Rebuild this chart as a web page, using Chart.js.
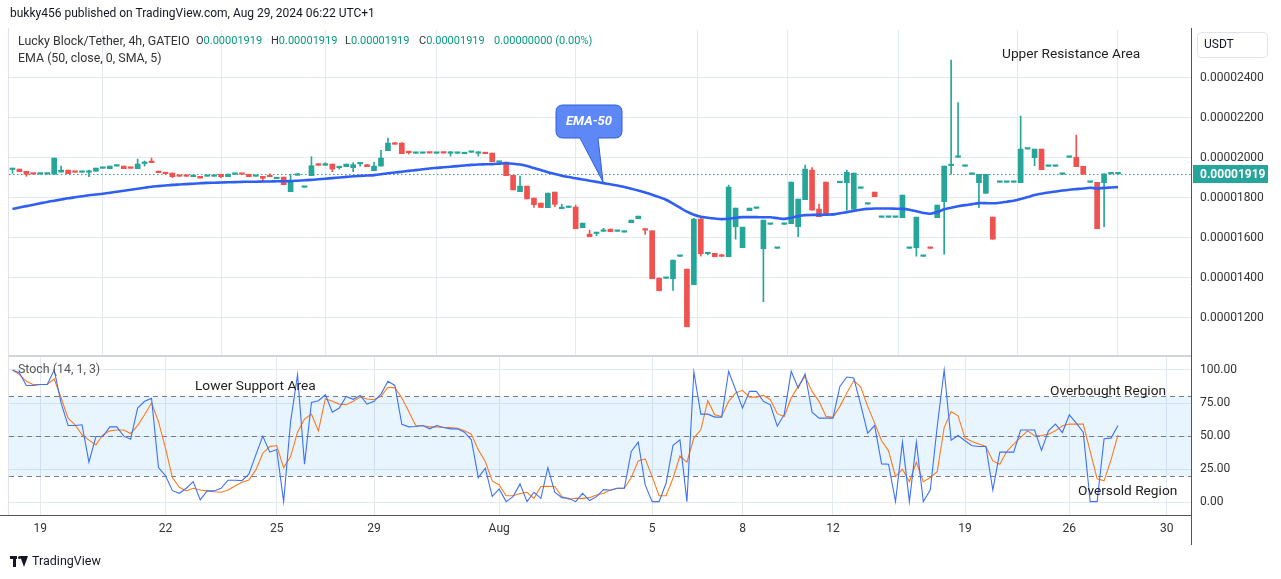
<!DOCTYPE html>
<html><head><meta charset="utf-8">
<script src="https://cdn.jsdelivr.net/npm/chart.js@4.4.1/dist/chart.umd.min.js"></script>
<style>
html,body{margin:0;padding:0;background:#fff;width:1281px;height:579px;overflow:hidden;font-family:Roboto,'Liberation Sans',sans-serif;color:#131722;}
canvas{position:absolute;left:0;top:0;}
.t{position:absolute;white-space:nowrap;font-size:12px;line-height:14px;}
.s{font-size:11px;}
.v{color:#089981;}
.ann{position:absolute;white-space:nowrap;font-size:13.7px;color:#222;}
</style></head>
<body>
<canvas id="main" width="1281" height="579" style="width:1281px;height:579px"></canvas>
<canvas id="stoch" width="1281" height="579" style="width:1281px;height:579px"></canvas>
<div class="t" style="left:10px;top:6px;">bukky456 published on TradingView.com, Aug 29, 2024 06:22 UTC+1</div>
<div class="t" style="left:18px;top:34px;color:#333;font-size:12.4px;">Lucky Block/Tether, 4h, GATEIO</div>
<div class="t s" style="left:196px;top:34px;color:#333;">O<span class="v">0.00001919</span></div>
<div class="t s" style="left:271px;top:34px;color:#333;">H<span class="v">0.00001919</span></div>
<div class="t s" style="left:345px;top:34px;color:#333;">L<span class="v">0.00001919</span></div>
<div class="t s" style="left:419px;top:34px;color:#333;">C<span class="v">0.00001919</span></div>
<div class="t s" style="left:494px;top:34px;"><span class="v">0.00000000 (0.00%)</span></div>
<div class="t" style="left:18px;top:51px;color:#333;font-size:12.4px;">EMA (50, close, 0, SMA, 5)</div>
<div class="t" style="left:18px;top:362px;color:#555;font-size:12.4px;">Stoch (14, 1, 3)</div>
<div class="ann" style="left:1002px;top:45px;">Upper Resistance Area</div>
<div class="ann" style="left:195px;top:377px;">Lower Support Area</div>
<div class="ann" style="left:1050px;top:382px;">Overbought Region</div>
<div class="ann" style="left:1078px;top:482px;">Oversold Region</div>
<div style="position:absolute;left:10px;top:556px;width:18px;height:11px;">
  <div style="position:absolute;left:0;top:0;width:7px;height:3px;background:#131722"></div>
  <div style="position:absolute;left:3px;top:0;width:3px;height:11px;background:#131722"></div>
  <div style="position:absolute;left:8px;top:0;width:3px;height:3px;border-radius:50%;background:#131722"></div>
  <div style="position:absolute;left:10px;top:0;width:0;height:0;border-left:4px solid transparent;border-right:4px solid transparent;border-top:11px solid #131722"></div>
</div>
<div class="t" style="left:32px;top:554px;font-size:12.5px;">TradingView</div>
<script>
// ---- data (prices in units of 1e-8 USDT), one entry per 4h candle ----
const OPEN  = [1941,1943,1932,1919,1918,1918,1917,1928,1938,1928, 1927,1927,1932,1947,1945,1958,1958,1948,1945,1971,
               1983,1933,1927,1923,1908,1908,1905,1907,1907,1907, 1917,1905,1917,1918,1917,1907,1907,1906,1895,1903,
               1830,1912,1852,1910,1970,1962,1968,1950,1955,1950, 1969,1965,1935,1958,2035,2068,2073,2026,2022,2022,
               2024,2022,2024,2022,2022,2020,2027,2022,2027,2023, 1977,1978,1912,1830,1858,1798,1773,1750,1828,1745,
               1751,1753,1650,1618,1621,1632,1643,1632,1628,1675, 1695,1639,1635,1398,1397,1395,1507,1443,1365,1693,
               1520,1522,1508,1505,1655,1550,1735,1747,1545,1667, 1547,1667,1670,1655,1790,1938,1743,1878,1712,1875,
               1875,1742,1847,1768,1828,1702,1702,1702,1700,1547, 1550,1507,1548,1700,1780,1960,2002,1957,1917,1875,
               1822,1703,1877,1877,1877,1875,2043,2000,2043,1957, 1957,1917,2002,2002,1957,1877,1877,1875,1919,1919];
const HIGH  = [1942,1943,1932,1919,1919,1922,1998,1958,1938,1928, 1928,1938,1948,1948,1958,1959,1958,1948,1993,1983,
               1998,1933,1927,1923,1908,1908,1913,1907,1908,1908, 1917,1918,1918,1918,1917,1908,1907,1920,1896,1903,
               1915,1920,1853,2005,1970,1975,1968,1951,1968,1975, 1975,1965,1977,2037,2098,2075,2075,2026,2023,2023,
               2024,2023,2024,2030,2023,2021,2028,2030,2027,2023, 1983,1978,1912,1908,1858,1798,1773,1823,1828,1767,
               1758,1763,1673,1638,1622,1647,1643,1633,1633,1688, 1708,1645,1635,1398,1398,1488,1508,1443,1697,1697,
               1521,1522,1518,1863,1748,1653,1748,1748,1688,1668, 1548,1668,1878,1793,1963,1950,1768,1878,1713,1876,
               1938,1923,1848,1769,1828,1703,1703,1703,1813,1548, 1703,1508,1548,1763,1958,2488,2275,1958,1918,1917,
               1917,1703,1878,1878,1878,2208,2044,2043,2043,1958, 1958,1918,2003,2113,1957,1878,1877,1919,1919,1919];
const LOW   = [1922,1930,1907,1918,1918,1918,1917,1928,1920,1927, 1927,1905,1932,1947,1945,1958,1945,1947,1945,1958,
               1975,1925,1920,1900,1907,1907,1905,1898,1907,1907, 1900,1905,1917,1917,1905,1907,1885,1905,1895,1865,
               1830,1912,1852,1910,1962,1962,1930,1943,1955,1930, 1958,1955,1935,1958,2035,2067,2020,2018,2022,2022,
               2023,2022,2023,2008,2022,2020,2027,2008,2020,1980, 1977,1910,1839,1830,1794,1751,1751,1750,1755,1745,
               1751,1645,1650,1605,1610,1632,1630,1632,1628,1675, 1695,1617,1395,1335,1397,1337,1507,1155,1365,1508,
               1515,1505,1507,1505,1593,1550,1735,1747,1280,1667, 1547,1667,1670,1605,1790,1738,1705,1712,1712,1875,
               1738,1742,1847,1768,1805,1702,1702,1702,1700,1547, 1508,1507,1547,1700,1517,1918,2002,1957,1917,1750,
               1822,1593,1877,1877,1877,1875,2043,1960,1940,1957, 1957,1917,2002,1955,1917,1877,1645,1655,1919,1919];
const CLOSE = [1942,1930,1917,1918,1919,1919,1998,1938,1920,1927, 1928,1928,1948,1948,1958,1959,1945,1947,1968,1972,
               1975,1925,1920,1905,1907,1907,1913,1898,1908,1908, 1905,1918,1918,1917,1905,1908,1897,1905,1896,1865,
               1885,1920,1853,1960,1962,1970,1943,1951,1968,1965, 1970,1955,1958,1998,2073,2067,2020,2025,2023,2023,
               2023,2023,2023,2023,2023,2021,2028,2023,2020,1980, 1983,1910,1839,1858,1794,1765,1751,1823,1767,1753,
               1752,1645,1673,1605,1622,1633,1630,1633,1629,1688, 1708,1638,1395,1335,1398,1488,1508,1155,1693,1520,
               1521,1505,1507,1853,1748,1653,1748,1748,1688,1668, 1548,1668,1878,1793,1943,1738,1705,1712,1713,1876,
               1927,1923,1848,1769,1805,1703,1703,1703,1813,1548, 1703,1508,1547,1763,1958,1961,2003,1958,1918,1917,
               1917,1593,1878,1878,1878,2043,2044,2043,1940,1958, 1958,1918,2003,1955,1917,1878,1645,1919,1919,1919];
const EMA50 = [1744,1751,1758,1765,1772,1779,1785,1791,1797,1802, 1807,1812,1816,1820,1825,1830,1835,1840,1845,1850,
               1855,1858,1861,1864,1866,1868,1870,1872,1874,1875, 1876,1877,1878,1879,1880,1880,1881,1881,1882,1882,
               1883,1885,1887,1889,1892,1895,1898,1901,1904,1907, 1909,1911,1913,1917,1922,1926,1930,1934,1938,1942,
               1946,1949,1952,1955,1958,1961,1964,1966,1967,1968, 1970,1972,1970,1966,1958,1948,1938,1927,1918,1910,
               1903,1897,1891,1885,1879,1873,1867,1861,1853,1845, 1836,1826,1815,1803,1790,1770,1750,1730,1715,1705,
               1700,1696,1693,1695,1700,1703,1703,1703,1702,1702, 1698,1694,1700,1708,1713,1714,1714,1715,1717,1722,
               1728,1734,1740,1744,1746,1746,1746,1745,1744,1740, 1732,1724,1720,1728,1742,1750,1757,1763,1768,1773,
               1773,1772,1775,1780,1785,1793,1803,1813,1820,1826, 1831,1836,1840,1843,1846,1850,1846,1849,1851,1853];
const STOCH_K = [100,97.7,88.3,88.3,89,89,100,75,58,58, 58.6,30.3,49.7,49.7,57,57,50,47.7,71.2,76.3,
                 78.5,26.2,20.2,8.8,6.8,10.6,15.6,1.8,8.6,8.6, 10.6,16.7,16.7,16.4,21.2,35.8,50,37.9,39.9,0.5,
                 61,96.5,28.8,75.5,76.8,81.3,68,71.2,80,77.8, 80.8,74.2,76.3,81.8,91.4,88.3,59,57,57.3,58,
                 55.5,58,56.5,55.5,55.5,53,47.2,18.7,25.8,4.5, 10.1,0.5,4.3,13.9,0.5,7.6,3,26.2,7.6,3.5,
                 3,0.5,6.8,1.3,4.3,9.6,9.1,10.6,10.6,38.4, 45.5,13.1,0.5,0.5,14.4,43,47.2,0.5,98.5,66.6,
                 66.6,64.4,64.4,99,85.1,71.2,83.8,83.8,76.3,73.7, 57.5,66.4,99,86.4,97,68.1,63.6,63.6,63.6,87.6,
                 94.7,93.9,73.7,52.2,58,29,28.8,0.5,45.5,0.5, 45.5,0.5,9.3,57.3,100,46.9,50.5,46.5,42.7,42.2,
                 42.2,9.3,37.9,37.9,37.9,54.6,54.6,54.6,39.2,54, 59.1,52.7,66.1,59.8,53,0.5,0.5,48,48.5,58];
const STOCH_D = [100,96.5,91.4,88.9,89,89,93.2,78.8,63.6,58.6, 51,47,43.4,51,54,54.6,54.6,52,58,66.1,
                 75,61,40.9,18.7,11.4,8.6,10.6,9.3,8.6,8, 7.6,9.3,12.3,15.1,16.9,24.5,37.1,42.1,42.9,26.2,
                 34.5,53,62.9,66.6,54,78.3,76.3,74.2,73.7,76.3, 79.5,78,77.5,80,86.9,86.5,78.8,68.6,57.8,57.8,
                 57,57,56.5,56.5,56,54,51.5,39.6,30.8,16.1, 13.1,5,5,6.6,7.6,3,11.9,12.1,11.9,4.3,
                 2.3,3,3,3.5,5.5,6.8,9.3,10.6,10.6,18.7, 31.3,32.8,19.4,5,5,18.2,35,30.3,48.5,54.8,
                 76.8,66.1,64.9,76.3,82.6,84.6,79.5,79.5,80.8,77.5, 67,64.9,78.8,87.6,95.2,83.8,76.3,64.9,64.2,72.5,
                 82.6,92,87.1,72.5,59.8,46.5,38.9,19.4,25,15.6, 30.3,15.6,18.7,23.2,56.5,68.6,65.4,48.5,46,44,
                 42.2,31.3,28.8,38.4,44,49,54,50.3,50.5,51.5, 54,57.8,59.1,59.1,59.1,38.4,17.7,16.2,32,51];
const DATE_IDX    = [4, 22, 38, 52, 70, 92, 105, 118, 137, 152, 166];
const DATE_LABELS = ['19','22','25','29','Aug','5','8','12','19','26','30'];
const PRICE_TICKS = [1200,1400,1600,1800,2000,2200,2400];
const STOCH_TICKS = [0,25,50,75,100];
const STOCH_LEVELS = [80,50,20];
const LAST_PRICE = 1919;

// ---- layout constants ----
const LEFT = 9, RIGHT = 1191, W = 1281, H = 579;
const MAIN_TOP = 30, MAIN_BOT = 355, ST_TOP = 357, ST_BOT = 515;
const XMIN = -0.5, XMAX = 169.5;
const UP = '#26a69a', DOWN = '#ef5350', GRID = '#e3e9f1', TXT = '#333';
const FONT = "Roboto, 'Liberation Sans', sans-serif";

const colors = OPEN.map((o,i) => CLOSE[i] >= o ? UP : DOWN);
const idx = OPEN.map((_,i) => i);
const fmt8 = v => (v*1e-8).toFixed(8);

const xScale = (showLabels) => ({
  type:'linear', min:XMIN, max:XMAX, offset:false,
  afterBuildTicks: s => { s.ticks = DATE_IDX.map(v => ({value:v})); },
  ticks:{ display:showLabels, autoSkip:false, maxRotation:0, padding:7, color:TXT,
          font:{family:FONT, size:12},
          callback: (v) => { const k = DATE_IDX.indexOf(v); return k >= 0 ? DATE_LABELS[k] : ''; } },
  grid:{ color:GRID, drawTicks:false, lineWidth:1 },
  border:{ display:false },
  afterFit: s => { s.height = showLabels ? 30 : 0; }
});

const mainDecor = {
  id:'mainDecor',
  beforeDatasetsDraw(chart){
    const c = chart.ctx, y = chart.scales.y.getPixelForValue(LAST_PRICE);
    c.save();
    c.strokeStyle = '#26a69a'; c.lineWidth = 1; c.setLineDash([1.5,2.5]);
    c.beginPath(); c.moveTo(LEFT, Math.round(y)+0.5); c.lineTo(RIGHT, Math.round(y)+0.5); c.stroke();
    c.restore();
  },
  afterDraw(chart){
    const c = chart.ctx, y = chart.scales.y.getPixelForValue(LAST_PRICE);
    c.save();
    // EMA-50 callout
    c.fillStyle = 'rgba(66,115,245,0.85)'; c.strokeStyle = '#2f5fe0'; c.lineWidth = 1;
    c.beginPath();
    const bx = 556, by = 105, bw = 66, bh = 33, r = 7;
    c.moveTo(bx+r, by); c.lineTo(bx+bw-r, by); c.quadraticCurveTo(bx+bw, by, bx+bw, by+r);
    c.lineTo(bx+bw, by+bh-r); c.quadraticCurveTo(bx+bw, by+bh, bx+bw-r, by+bh);
    c.lineTo(598, by+bh); c.lineTo(603, 182); c.lineTo(580, by+bh);
    c.lineTo(bx+r, by+bh); c.quadraticCurveTo(bx, by+bh, bx, by+bh-r);
    c.lineTo(bx, by+r); c.quadraticCurveTo(bx, by, bx+r, by);
    c.closePath(); c.fill(); c.stroke();
    c.fillStyle = '#fff'; c.font = "italic bold 13px " + FONT; c.textAlign = 'center'; c.textBaseline = 'middle';
    c.fillText('EMA-50', bx+bw/2, by+bh/2);
    // last price label
    c.fillStyle = '#26a69a';
    c.fillRect(RIGHT+2, Math.round(y)-9, 75, 18);
    c.fillStyle = '#fff'; c.font = "bold 12px " + FONT; c.textAlign = 'left';
    c.fillText(fmt8(LAST_PRICE), RIGHT+9, Math.round(y)+0.5);
    // USDT box
    c.strokeStyle = '#e0e3eb'; c.fillStyle = '#fff'; c.lineWidth = 1;
    c.beginPath(); c.roundRect(1197.5, 32.5, 70, 25, 4); c.fill(); c.stroke();
    c.fillStyle = '#131722'; c.font = "12px " + FONT; c.textAlign = 'left';
    c.fillText('USDT', 1204, 45);
    c.restore();
  }
};

new Chart(document.getElementById('main'), {
  type:'bar',
  data:{ datasets:[
    { type:'line', data: EMA50.map((v,i)=>({x:i,y:v})), borderColor:'#2f5ff2', borderWidth:2.6,
      pointRadius:0, tension:0.3, order:0 },
    { label:'wick', data: idx.map(i=>({x:i,y:[LOW[i],HIGH[i]]})), backgroundColor:colors,
      barThickness:1, grouped:false, order:2 },
    { label:'body', data: idx.map(i=>({x:i,y:[OPEN[i],CLOSE[i]]})), backgroundColor:colors,
      barThickness:5, minBarLength:1.5, grouped:false, order:1 }
  ]},
  options:{
    responsive:false, animation:false, events:[],
    layout:{ padding:{ left:LEFT, right:W-RIGHT-84, top:MAIN_TOP, bottom:H-MAIN_BOT } },
    plugins:{ legend:{display:false}, tooltip:{enabled:false} },
    scales:{
      x: xScale(false),
      y:{ position:'right', min:1014, max:2638,
          afterBuildTicks: s => { s.ticks = PRICE_TICKS.map(v=>({value:v})); },
          afterFit: s => { s.width = 84; },
          ticks:{ color:TXT, padding:9, font:{family:FONT, size:12}, callback: v => fmt8(v) },
          grid:{ color:GRID, drawTicks:false }, border:{display:false} }
    }
  },
  plugins:[mainDecor]
});

const stochDecor = {
  id:'stochDecor',
  beforeDatasetsDraw(chart){
    const c = chart.ctx, ys = chart.scales.y;
    const y80 = ys.getPixelForValue(STOCH_LEVELS[0]), y20 = ys.getPixelForValue(STOCH_LEVELS[2]);
    c.save();
    c.fillStyle = 'rgba(33,150,243,0.1)';
    c.fillRect(LEFT, y80, RIGHT-LEFT, y20-y80);
    c.strokeStyle = '#787b86'; c.lineWidth = 1; c.setLineDash([5,4]);
    STOCH_LEVELS.forEach(l => { const y = Math.round(ys.getPixelForValue(l))+0.5;
      c.beginPath(); c.moveTo(LEFT, y); c.lineTo(RIGHT, y); c.stroke(); });
    c.restore();
  },
  afterDraw(chart){
    const c = chart.ctx;
    c.save();
    c.strokeStyle = '#d1d4dc'; c.lineWidth = 2;
    c.beginPath(); c.moveTo(LEFT, 356); c.lineTo(RIGHT, 356); c.stroke();
    c.strokeStyle = '#50535e'; c.lineWidth = 1;
    c.beginPath(); c.moveTo(0, ST_BOT+0.5); c.lineTo(RIGHT, ST_BOT+0.5); c.stroke();
    c.beginPath(); c.moveTo(RIGHT+0.5, 28); c.lineTo(RIGHT+0.5, 545); c.stroke();
    c.strokeStyle = '#e0e3eb';
    c.beginPath(); c.moveTo(LEFT-0.5, 28); c.lineTo(LEFT-0.5, ST_BOT); c.stroke();
    c.restore();
  }
};

new Chart(document.getElementById('stoch'), {
  type:'line',
  data:{ datasets:[
    { data: STOCH_K.map((v,i)=>({x:i,y:v})), borderColor:'#3d72f7', borderWidth:1.1, pointRadius:0, tension:0 },
    { data: STOCH_D.map((v,i)=>({x:i,y:v})), borderColor:'#ff7a1a', borderWidth:1.1, pointRadius:0, tension:0 }
  ]},
  options:{
    responsive:false, animation:false, events:[],
    layout:{ padding:{ left:LEFT, right:W-RIGHT-84, top:ST_TOP, bottom:H-ST_BOT-30 } },
    plugins:{ legend:{display:false}, tooltip:{enabled:false} },
    scales:{
      x: xScale(true),
      y:{ position:'right', min:-9.6, max:109.8,
          afterBuildTicks: s => { s.ticks = STOCH_TICKS.map(v=>({value:v})); },
          afterFit: s => { s.width = 84; },
          ticks:{ color:TXT, padding:9, font:{family:FONT, size:12}, callback: v => v.toFixed(2) },
          grid:{ color:GRID, drawTicks:false }, border:{display:false} }
    }
  },
  plugins:[stochDecor]
});
</script>
</body></html>
